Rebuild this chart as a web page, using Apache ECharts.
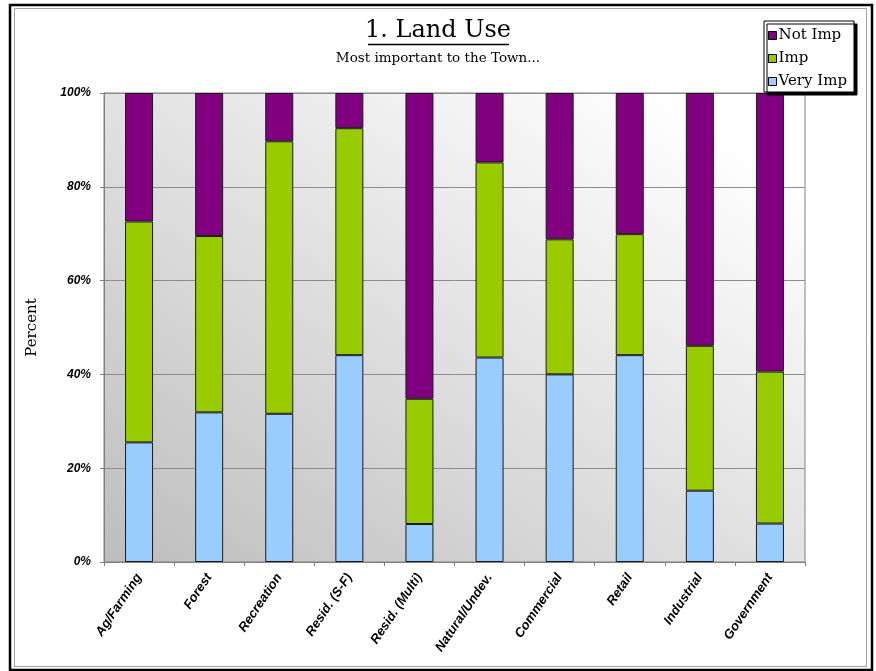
<!DOCTYPE html>
<html>
<head>
<meta charset="utf-8">
<title>1. Land Use</title>
<script src="https://cdn.jsdelivr.net/npm/echarts@6/dist/echarts.min.js"></script>
<style>
  html, body { margin: 0; padding: 0; background: #ffffff; }
  #chart { width: 876px; height: 671px; }
</style>
</head>
<body>
<div id="chart"></div>
<script>
// Survey responses: share of respondents per land use (percent)
const categories = ['Ag/Farming', 'Forest', 'Recreation', 'Resid. (S-F)', 'Resid. (Multi)',
  'Natural/Undev.', 'Commercial', 'Retail', 'Industrial', 'Government'];
const veryImp = [25.5, 31.9, 31.6, 44.1, 8.1, 43.6, 40.0, 44.1, 15.2, 8.2];
const imp     = [47.1, 37.6, 58.1, 48.4, 26.7, 41.6, 28.8, 25.8, 30.9, 32.4];
const notImp  = [27.4, 30.5, 10.3, 7.5, 65.2, 14.8, 31.2, 30.1, 53.9, 59.4];
const yTicks = [0, 20, 40, 60, 80, 100];

const serif = '"DejaVu Serif", "Liberation Serif", serif';
const sans = '"Liberation Sans", Arial, sans-serif';

const chart = echarts.init(document.getElementById('chart'), null, { renderer: 'canvas' });

const barStyle = (color) => ({ color: color, borderColor: '#1a1a1a', borderWidth: 1 });

// plot area box (px)
const plotLeft = 104, plotRight = 71, plotTop = 93, plotBottom = 109;

chart.setOption({
  animation: false,
  backgroundColor: '#ffffff',
  title: {
    text: '1. Land Use',
    subtext: 'Most important to the Town...',
    left: 'center',
    top: 14,
    itemGap: 8,
    textStyle: { fontFamily: serif, fontSize: 24, fontWeight: 'normal', color: '#000' },
    subtextStyle: { fontFamily: serif, fontSize: 13.5, color: '#000' }
  },
  legend: {
    data: ['Not Imp', 'Imp', 'Very Imp'],
    orient: 'vertical',
    right: 22,
    top: 21,
    icon: 'rect',
    itemWidth: 8,
    itemHeight: 8,
    itemGap: 8,
    padding: [7, 7, 3, 4],
    backgroundColor: '#ffffff',
    borderColor: '#000',
    borderWidth: 1,
    shadowColor: '#000',
    shadowBlur: 0,
    shadowOffsetX: 3,
    shadowOffsetY: 3,
    itemStyle: { borderColor: '#000', borderWidth: 1 },
    textStyle: { fontFamily: serif, fontSize: 15, color: '#000', padding: [0, 0, 0, -3] }
  },
  grid: {
    left: plotLeft,
    right: plotRight,
    top: plotTop,
    bottom: plotBottom,
    show: true,
    borderColor: '#808080',
    borderWidth: 1,
    // diagonal shading: dark at lower left, white toward upper right
    backgroundColor: {
      type: 'linear', global: true,
      x: plotLeft, y: 671 - plotBottom, x2: plotLeft + 435, y2: 671 - plotBottom - 648,
      colorStops: [
        { offset: 0, color: '#bdbdbd' },
        { offset: 0.5, color: '#e2e2e2' },
        { offset: 0.9, color: '#ffffff' },
        { offset: 1, color: '#ffffff' }
      ]
    }
  },
  xAxis: {
    type: 'category',
    data: categories,
    axisLine: { lineStyle: { color: '#808080', width: 1 } },
    axisTick: { show: true, length: 4, lineStyle: { color: '#808080' } },
    axisLabel: {
      rotate: 56,
      margin: 13,
      interval: 0,
      fontFamily: sans,
      fontSize: 13,
      fontWeight: 'bold',
      fontStyle: 'italic',
      color: '#000'
    }
  },
  yAxis: {
    type: 'value',
    min: yTicks[0],
    max: yTicks[yTicks.length - 1],
    interval: yTicks[1] - yTicks[0],
    name: 'Percent',
    nameLocation: 'middle',
    nameGap: 64,
    nameRotate: 90,
    nameTextStyle: { fontFamily: serif, fontSize: 15, color: '#000' },
    axisLine: { show: true, lineStyle: { color: '#808080', width: 1 } },
    axisTick: { show: true, length: 4, lineStyle: { color: '#808080' } },
    splitLine: { lineStyle: { color: '#8c8c8c', width: 1 } },
    axisLabel: {
      formatter: '{value}%',
      margin: 13,
      fontFamily: sans,
      fontSize: 12,
      fontWeight: 'bold',
      fontStyle: 'italic',
      color: '#000'
    }
  },
  series: [
    { name: 'Very Imp', type: 'bar', stack: 'total', data: veryImp, barWidth: 28, itemStyle: barStyle('#99ccff') },
    { name: 'Imp', type: 'bar', stack: 'total', data: imp, barWidth: 28, itemStyle: barStyle('#99cc00') },
    { name: 'Not Imp', type: 'bar', stack: 'total', data: notImp, barWidth: 28, itemStyle: barStyle('#800080') }
  ],
  graphic: [
    // title underline
    { type: 'line', silent: true, shape: { x1: 368, y1: 44.5, x2: 509, y2: 44.5 }, style: { stroke: '#000', lineWidth: 1.5 } },
    // double frame around the whole chart
    { type: 'rect', silent: true, shape: { x: 10, y: 5, width: 862, height: 665 }, style: { fill: 'none', stroke: '#000', lineWidth: 2.5 } },
    { type: 'rect', silent: true, shape: { x: 14.5, y: 8.5, width: 852, height: 658 }, style: { fill: 'none', stroke: '#a0a0a0', lineWidth: 1 } }
  ]
});
</script>
</body>
</html>
